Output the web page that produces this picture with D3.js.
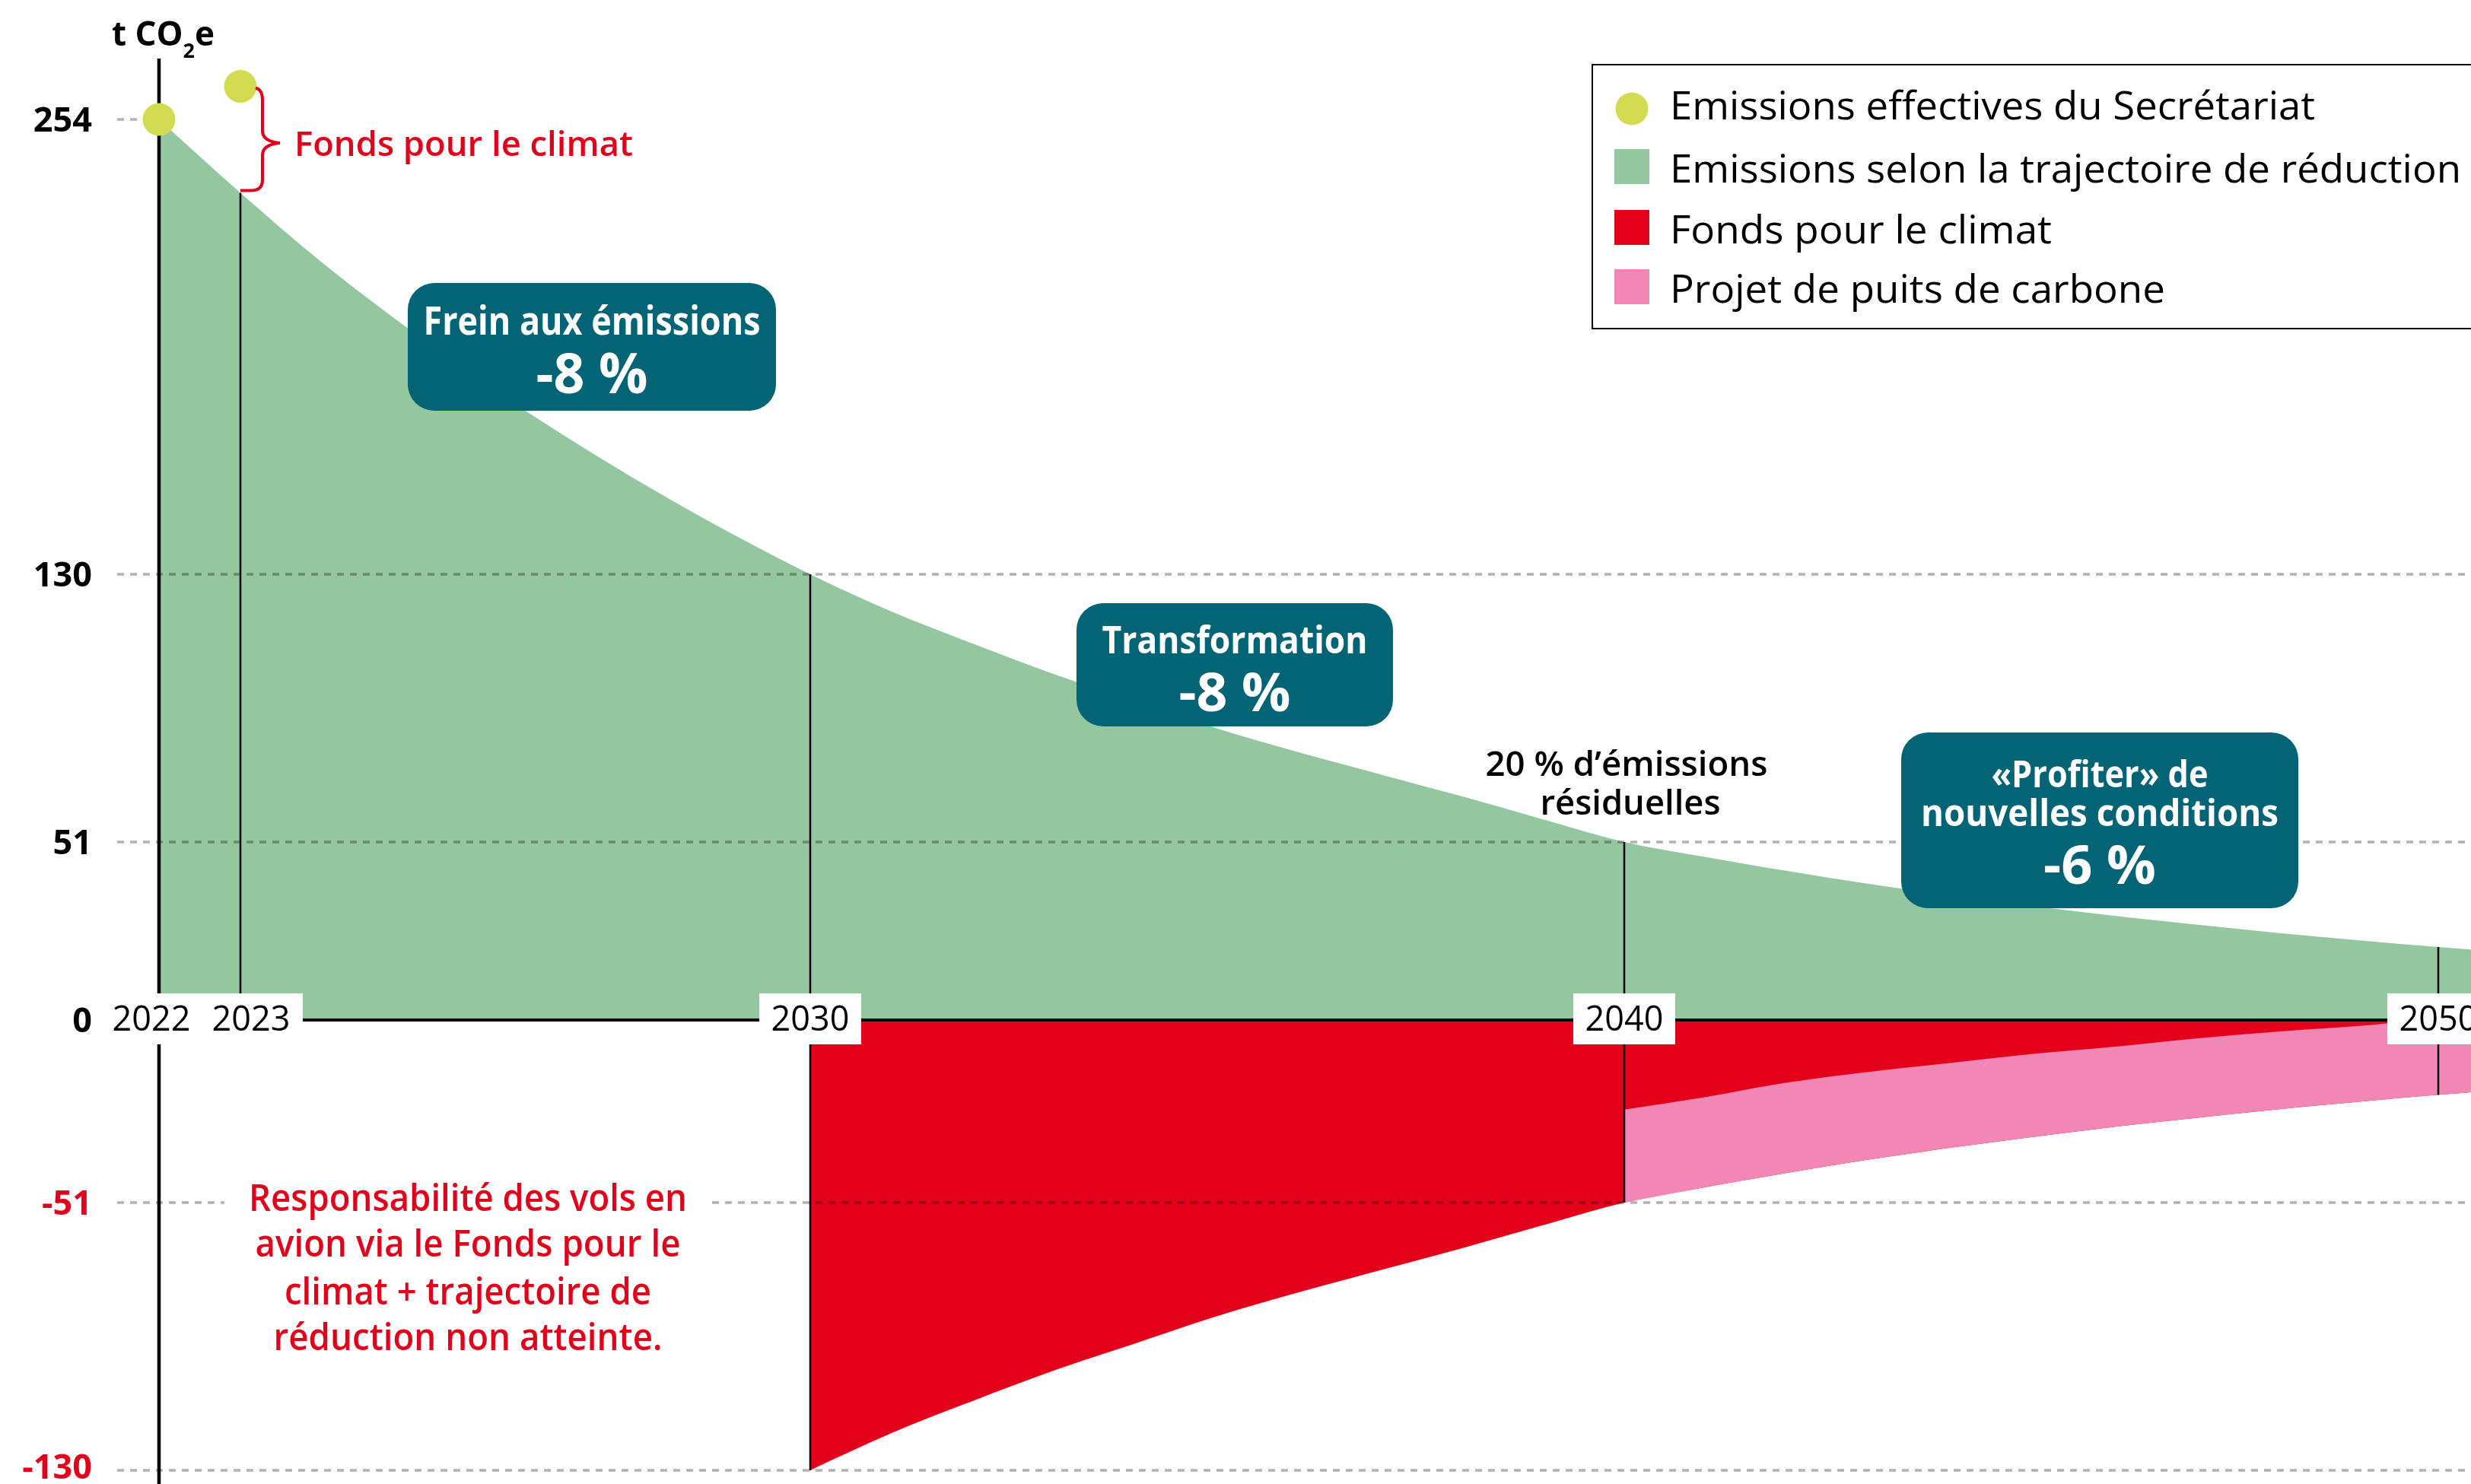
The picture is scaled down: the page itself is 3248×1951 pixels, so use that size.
<!DOCTYPE html>
<html>
<head>
<meta charset="utf-8">
<script src="https://cdn.jsdelivr.net/npm/d3@7"></script>
<style>
  html, body { margin: 0; padding: 0; background: #fff; }
  svg { display: block; font-family: "Open Sans", "Noto Sans", sans-serif; }
</style>
</head>
<body>
<svg width="3248" height="1951"></svg>
<script>
// values (t CO2e)
const years = [2022, 2023, 2024, 2025, 2026, 2027, 2028, 2029, 2030, 2031,
               2032, 2033, 2034, 2035, 2036, 2037, 2038, 2039, 2040, 2041,
               2042, 2043, 2044, 2045, 2046, 2047, 2048, 2049, 2050, 2051];
const emissions = [254, 234, 215, 198, 182, 167.5, 154, 141.5, 130, 119,
                   109.5, 100.5, 92.5, 84.5, 77.5, 71, 64.5, 57.7, 51, 46.7,
                   42.7, 39, 35.7, 32.7, 29.9, 27.4, 25, 22.9, 20.9, 19.2];

// actual emissions of the secretariat
const actualYears = [2022, 2023];
const actualValues = [254, 263];

// climate fund covers the trajectory from 2030, carbon sink from 2040
const fundStart = 2030;
const sinkYears = [2040, 2041, 2042, 2043, 2044, 2045, 2046, 2047, 2048, 2049, 2050, 2051];
const sinkValues = [26, 25.2, 25.2, 24.5, 23.7, 23.2, 22.4, 22.2, 21.7, 21.2, 20.9, 19.2];

const yTicks = [254, 130, 51, 0, -51, -130];
const yearTicks = [2022, 2023, 2030, 2040, 2050];
const guideYears = [2023, 2030, 2040, 2050];

const legendItems = [
  {label: "Emissions effectives du Secrétariat", color: "#d3dc50", shape: "circle", len: 848},
  {label: "Emissions selon la trajectoire de réduction", color: "#94c6a0", shape: "rect", len: 1040},
  {label: "Fonds pour le climat", color: "#e2001a", shape: "rect", len: 502},
  {label: "Projet de puits de carbone", color: "#f286b5", shape: "rect", len: 651}
];

const green = "#94c6a0", red = "#e2001a", pink = "#f286b5", teal = "#036476", dot = "#d3dc50";

var svg = d3.select("svg");

var x = d3.scaleLinear().domain([2022, 2050]).range([209, 3205]);
// tick spacing in the original is not strictly proportional
var y = d3.scaleLinear().domain([-130, -51, 0, 51, 130, 254]).range([1933, 1581, 1341, 1107, 755, 157]);

var traj = years.map((yr, i) => ({year: yr, v: emissions[i]}));
var emAt = yr => emissions[years.indexOf(yr)];
var sink = sinkYears.map((yr, i) => ({year: yr, s: sinkValues[i], v: emAt(yr)}));

function txt(g, str, px, py, o) {
  var t = g.append("text")
    .attr("x", px).attr("y", py)
    .attr("font-size", o.size)
    .attr("font-weight", o.weight || 400)
    .attr("fill", o.fill || "#000")
    .attr("text-anchor", o.anchor || "start")
    .text(str);
  if (o.len) t.attr("textLength", o.len).attr("lengthAdjust", "spacingAndGlyphs");
  return t;
}

// areas
svg.append("path")
  .datum(traj)
  .attr("fill", green)
  .attr("d", d3.area().x(d => x(d.year)).y0(y(0)).y1(d => y(d.v)).curve(d3.curveMonotoneX));

svg.append("path")
  .datum(traj.filter(d => d.year >= fundStart))
  .attr("fill", red)
  .attr("d", d3.area().x(d => x(d.year)).y0(y(0)).y1(d => y(-d.v)).curve(d3.curveMonotoneX));

svg.append("path")
  .datum(sink)
  .attr("fill", pink)
  .attr("d", d3.area().x(d => x(d.year)).y0(d => y(-d.v)).y1(d => y(-d.v + d.s)).curve(d3.curveMonotoneX));

// dashed grid
svg.append("g")
  .selectAll("line")
  .data(yTicks.filter(t => t != 0))
  .enter()
  .append("line")
    .attr("x1", 154)
    .attr("x2", d => d == 254 ? x(2022) : 3248)
    .attr("y1", d => y(d)).attr("y2", d => y(d))
    .attr("stroke", "#b2b2b2")
    .attr("stroke-width", 3.3)
    .attr("stroke-dasharray", "9,8")
    .style("mix-blend-mode", "multiply");

// vertical guides
svg.append("g")
  .selectAll("line")
  .data(guideYears)
  .enter()
  .append("line")
    .attr("x1", d => x(d)).attr("x2", d => x(d))
    .attr("y1", d => y(emAt(d)))
    .attr("y2", d => d >= fundStart ? y(-emAt(d)) : y(0))
    .attr("stroke", "#000")
    .attr("stroke-width", 2.5);

// axes
svg.append("line")
  .attr("x1", x(2022)).attr("x2", 3248)
  .attr("y1", y(0)).attr("y2", y(0))
  .attr("stroke", "#000").attr("stroke-width", 4);
svg.append("line")
  .attr("x1", x(2022)).attr("x2", x(2022))
  .attr("y1", 77).attr("y2", 1951)
  .attr("stroke", "#000").attr("stroke-width", 4.5);

// y tick labels
svg.append("g")
  .selectAll("text")
  .data(yTicks)
  .enter()
  .append("text")
    .attr("x", 121)
    .attr("y", d => Math.min(y(d) + 16, 1944))
    .attr("text-anchor", "end")
    .attr("font-size", 45)
    .attr("font-weight", 700)
    .attr("fill", d => d < 0 ? red : "#000")
    .text(d => d);

// year labels on white boxes
var yearPos = d => d == 2022 ? x(d) - 10 : d == 2023 ? x(d) + 14 : x(d);
var yl = svg.append("g");
yl.append("rect").attr("x", 135).attr("y", y(0) - 35).attr("width", 263).attr("height", 67).attr("fill", "#fff");
yl.selectAll("rect.b")
  .data(yearTicks.filter(d => d >= fundStart))
  .enter()
  .append("rect")
    .attr("class", "b")
    .attr("x", d => x(d) - 67).attr("y", y(0) - 35)
    .attr("width", 134).attr("height", 67)
    .attr("fill", "#fff");
yl.selectAll("text")
  .data(yearTicks)
  .enter()
  .append("text")
    .attr("x", yearPos)
    .attr("y", y(0) + 14)
    .attr("text-anchor", "middle")
    .attr("font-size", 45)
    .text(d => d);

// actual emission dots
svg.append("g")
  .selectAll("circle")
  .data(actualYears)
  .enter()
  .append("circle")
    .attr("cx", d => x(d))
    .attr("cy", (d, i) => y(actualValues[i]))
    .attr("r", 21.5)
    .attr("fill", dot);

// brace between actual 2023 and trajectory 2023
var bx = x(2023), yT = y(actualValues[1]) + 2, yB = y(emAt(2023)) - 3, yM = 188;
svg.append("path")
  .attr("d", `M${bx + 20},${yT} Q${bx + 29},${yT + 2} ${bx + 29},${yT + 16} L${bx + 29},${yM - 16} Q${bx + 29},${yM - 2} ${bx + 52},${yM}` +
             ` Q${bx + 29},${yM + 2} ${bx + 29},${yM + 16} L${bx + 29},${yB - 14} Q${bx + 29},${yB} ${bx + 14},${yB} L${bx},${yB}`)
  .attr("fill", "none")
  .attr("stroke", red)
  .attr("stroke-width", 4);
txt(svg, "Fonds pour le climat", 387, 205, {size: 46, weight: 600, fill: red, len: 445});

// axis title
var title = svg.append("text")
  .attr("x", 147).attr("y", 60)
  .attr("font-size", 44).attr("font-weight", 700);
title.append("tspan").text("t CO");
title.append("tspan").attr("font-size", 27).attr("dy", 16).text("2");
title.append("tspan").attr("dy", -16).text("e");

// red note
var note = svg.append("g");
note.append("rect").attr("x", 295).attr("y", 1545).attr("width", 638).attr("height", 255).attr("fill", "#fff");
[["Responsabilité des vols en", 1592, 576],
 ["avion via le Fonds pour le", 1652, 559],
 ["climat + trajectoire de", 1715, 482],
 ["réduction non atteinte.", 1775, 511]].forEach(l =>
  txt(note, l[0], 615, l[1], {size: 48, weight: 600, fill: red, anchor: "middle", len: l[2]}));

// residual emissions note
txt(svg, "20 % d’émissions", 2138, 1020, {size: 46, weight: 600, anchor: "middle", len: 371});
txt(svg, "résiduelles", 2143, 1071, {size: 46, weight: 600, anchor: "middle", len: 237});

// phase boxes
var boxes = [
  {x0: 536, y0: 372, w: 484, h: 168, cx: 778,
   lines: [["Frein aux émissions", 440, 52, 443], ["-8 %", 517, 73, 147]]},
  {x0: 1415, y0: 793, w: 416, h: 162, cx: 1623,
   lines: [["Transformation", 859, 50, 349], ["-8 %", 935, 70, 147]]},
  {x0: 2499, y0: 963, w: 522, h: 231, cx: 2760,
   lines: [["«Profiter» de", 1035, 49, 285], ["nouvelles conditions", 1086, 49, 470], ["-6 %", 1162, 70, 148]]}
];
boxes.forEach(b => {
  var g = svg.append("g");
  g.append("rect").attr("x", b.x0).attr("y", b.y0).attr("width", b.w).attr("height", b.h)
    .attr("rx", 35).attr("fill", teal);
  b.lines.forEach(l => txt(g, l[0], b.cx, l[1], {size: l[2], weight: 700, fill: "#fff", anchor: "middle", len: l[3]}));
});

// legend
var lg = svg.append("g");
lg.append("rect").attr("x", 2093).attr("y", 85).attr("width", 1200).attr("height", 347)
  .attr("fill", "#fff").attr("stroke", "#000").attr("stroke-width", 2);
var rowBase = [157, 240, 320, 398];
legendItems.forEach((it, i) => {
  if (it.shape == "circle") {
    lg.append("circle").attr("cx", 2145).attr("cy", rowBase[i] - 14).attr("r", 21.5).attr("fill", it.color);
  } else {
    lg.append("rect").attr("x", 2122).attr("y", rowBase[i] - 44).attr("width", 46).attr("height", 46).attr("fill", it.color);
  }
  txt(lg, it.label, 2195, rowBase[i], {size: 52, fill: "#000", len: it.len});
});
</script>
</body>
</html>
